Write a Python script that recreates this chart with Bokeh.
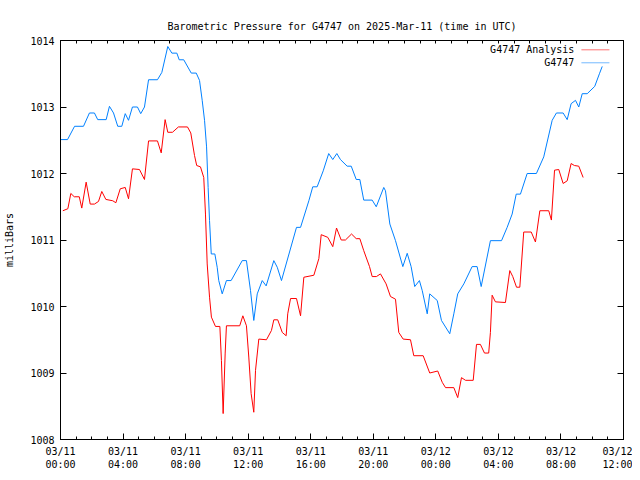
from bokeh.plotting import figure
from bokeh.models import FixedTicker, LinearAxis, Label, BoxAnnotation, Range1d
from bokeh.embed import file_html
from bokeh.resources import INLINE

# hours since 2025-03-11 00:00 UTC
obs_hours = [0.00, 0.45, 0.90, 1.47, 1.85, 2.17, 2.38, 2.92, 3.13, 3.39, 3.66, 3.92, 4.14, 4.35, 4.60,
             4.92, 5.13, 5.37, 5.63, 6.20, 6.48, 6.86, 7.12, 7.44, 7.59, 7.88, 8.36, 8.68, 8.89, 9.06,
             9.21, 9.34, 9.44, 9.53, 9.64, 9.87, 10.02, 10.12, 10.34, 10.61, 10.91, 11.62, 11.89, 12.15,
             12.36, 12.58, 12.90, 13.15, 13.64, 13.86, 14.13, 15.09, 15.35, 15.88, 16.13, 16.41, 16.80,
             17.15, 17.41, 17.67, 17.90, 18.33, 18.59, 18.91, 19.14, 19.39, 19.93, 20.19, 20.67, 20.78,
             21.06, 21.42, 21.89, 22.17, 22.42, 22.65, 22.95, 23.13, 23.45, 23.61, 24.09, 24.36, 24.89,
             25.15, 25.40, 25.79, 26.32, 26.64, 26.90, 27.49, 28.20, 28.56, 28.88, 29.14, 29.41, 29.84,
             30.43, 30.90, 31.44, 31.71, 32.14, 32.40, 32.65, 32.93, 33.14, 33.36, 33.68, 34.16, 34.46,
             34.64]
obs_mb = [1012.51, 1012.51, 1012.71, 1012.71, 1012.91, 1012.91, 1012.81, 1012.81, 1013.01, 1012.91,
          1012.71, 1012.71, 1012.90, 1012.80, 1013.00, 1013.00, 1012.90, 1013.00, 1013.41, 1013.41,
          1013.52, 1013.91, 1013.81, 1013.81, 1013.71, 1013.71, 1013.51, 1013.51, 1013.40, 1013.10,
          1012.80, 1012.40, 1011.79, 1011.29, 1010.79, 1010.79, 1010.59, 1010.39, 1010.19, 1010.39,
          1010.39, 1010.69, 1010.69, 1010.24, 1009.79, 1010.19, 1010.39, 1010.31, 1010.69, 1010.59,
          1010.39, 1011.19, 1011.19, 1011.59, 1011.80, 1011.80, 1012.04, 1012.30, 1012.21, 1012.30,
          1012.21, 1012.11, 1012.11, 1011.91, 1011.91, 1011.60, 1011.60, 1011.50, 1011.79, 1011.74,
          1011.24, 1010.99, 1010.60, 1010.80, 1010.60, 1010.30, 1010.39, 1010.24, 1009.89, 1010.19,
          1010.09, 1009.79, 1009.59, 1009.89, 1010.19, 1010.34, 1010.60, 1010.60, 1010.30, 1010.99,
          1010.99, 1011.19, 1011.39, 1011.69, 1011.69, 1012.00, 1012.00, 1012.25, 1012.80, 1012.91,
          1012.91, 1012.81, 1013.05, 1013.10, 1013.00, 1013.20, 1013.20, 1013.31, 1013.50, 1013.61]

ana_hours = [0.15, 0.47, 0.66, 0.88, 1.20, 1.36, 1.64, 1.90, 2.17, 2.43, 2.64, 2.90, 3.34, 3.54, 3.82,
             4.14, 4.35, 4.60, 5.05, 5.37, 5.63, 6.20, 6.44, 6.69, 6.86, 7.16, 7.54, 8.12, 8.33, 8.57,
             8.71, 8.95, 9.16, 9.27, 9.38, 9.53, 9.65, 9.91, 10.19, 10.29, 10.40, 10.53, 10.61, 11.46,
             11.66, 11.89, 12.04, 12.19, 12.36, 12.47, 12.68, 13.17, 13.49, 13.64, 13.89, 14.18, 14.43,
             14.53, 14.71, 15.09, 15.35, 15.56, 16.20, 16.52, 16.67, 17.09, 17.41, 17.65, 17.95, 18.22,
             18.61, 18.91, 19.14, 19.39, 19.76, 19.93, 20.20, 20.46, 20.82, 21.10, 21.42, 21.63, 21.91,
             22.38, 22.59, 23.19, 23.61, 24.12, 24.41, 24.62, 25.15, 25.40, 25.64, 25.90, 26.39, 26.60,
             26.85, 27.11, 27.38, 27.49, 27.60, 27.81, 28.45, 28.73, 28.92, 29.16, 29.37, 29.62, 30.10,
             30.37, 30.65, 31.22, 31.39, 31.59, 31.86, 32.14, 32.40, 32.65, 32.86, 33.14, 33.42]
ana_mb = [1011.44, 1011.47, 1011.70, 1011.65, 1011.65, 1011.48, 1011.87, 1011.54, 1011.54, 1011.58,
          1011.73, 1011.61, 1011.59, 1011.56, 1011.77, 1011.79, 1011.62, 1012.07, 1012.06, 1011.91,
          1012.49, 1012.49, 1012.31, 1012.81, 1012.62, 1012.62, 1012.70, 1012.70, 1012.61, 1012.27,
          1012.12, 1012.10, 1011.94, 1011.39, 1010.64, 1010.14, 1009.84, 1009.70, 1009.70, 1009.19,
          1008.39, 1009.30, 1009.71, 1009.71, 1009.86, 1009.71, 1009.24, 1008.69, 1008.41, 1009.04,
          1009.51, 1009.50, 1009.64, 1009.80, 1009.80, 1009.61, 1009.56, 1009.89, 1010.12, 1010.12,
          1009.86, 1010.44, 1010.47, 1010.72, 1011.08, 1011.04, 1010.90, 1011.18, 1011.00, 1011.00,
          1011.09, 1011.02, 1011.02, 1010.84, 1010.60, 1010.45, 1010.45, 1010.49, 1010.34, 1010.15,
          1010.11, 1009.61, 1009.51, 1009.50, 1009.26, 1009.26, 1009.00, 1009.03, 1008.86, 1008.78,
          1008.78, 1008.63, 1008.93, 1008.89, 1008.89, 1009.43, 1009.43, 1009.30, 1009.30, 1009.61,
          1010.17, 1010.07, 1010.06, 1010.54, 1010.45, 1010.29, 1010.29, 1011.12, 1011.12, 1010.97,
          1011.44, 1011.44, 1011.30, 1012.05, 1012.06, 1011.85, 1011.89, 1012.15, 1012.12, 1012.11,
          1011.94]

x_ticks = [0, 4, 8, 12, 16, 20, 24, 28, 32, 36]
x_minor = list(range(0, 37))
x_tick_labels = ["03/11\n00:00", "03/11\n04:00", "03/11\n08:00", "03/11\n12:00", "03/11\n16:00",
                 "03/11\n20:00", "03/12\n00:00", "03/12\n04:00", "03/12\n08:00", "03/12\n12:00"]
y_ticks = [1008, 1009, 1010, 1011, 1012, 1013, 1014]

FONT = "DejaVu Sans Mono"
FS = "10px"

p = figure(width=632, height=472, output_backend="svg", toolbar_location=None,
           x_range=Range1d(0, 36), y_range=Range1d(1008, 1014),
           title="Barometric Pressure for G4747 on 2025-Mar-11 (time in UTC)",
           min_border_left=60, min_border_right=9, min_border_top=40, min_border_bottom=33,
           x_axis_location=None, y_axis_location=None)
p.title.align = "center"
p.title.text_font = FONT
p.title.text_font_size = FS
p.title.text_font_style = "normal"
p.title.text_color = "black"
p.title.standoff = 18
p.xgrid.visible = False
p.ygrid.visible = False
p.outline_line_color = "black"
p.outline_line_width = 1
p.background_fill_color = "white"
p.border_fill_color = "white"

# bottom axis with labels
xb = LinearAxis(ticker=FixedTicker(ticks=x_ticks, minor_ticks=x_minor))
xb.major_label_overrides = {t: l for t, l in zip(x_ticks, x_tick_labels)}
# left axis with labels
yl = LinearAxis(ticker=FixedTicker(ticks=y_ticks, minor_ticks=[]))
yl.axis_label = "milliBars"
yl.axis_label_text_font = FONT
yl.axis_label_text_font_size = FS
yl.axis_label_text_font_style = "normal"
yl.axis_label_text_color = "black"
yl.axis_label_standoff = 12
for ax in (xb, yl):
    ax.major_tick_in = 6
    ax.major_tick_out = 0
    ax.minor_tick_in = 3
    ax.minor_tick_out = 0
    ax.major_tick_line_color = "black"
    ax.minor_tick_line_color = "black"
    ax.axis_line_color = "black"
    ax.major_label_text_font = FONT
    ax.major_label_text_font_size = FS
    ax.major_label_text_color = "black"
    ax.major_label_standoff = 6

# mirrored tick marks on top and right (no labels: only minor ticks used)
xa = LinearAxis(ticker=FixedTicker(ticks=[], minor_ticks=x_minor))
yr = LinearAxis(ticker=FixedTicker(ticks=[], minor_ticks=y_ticks))
xa.minor_tick_in = 3
yr.minor_tick_in = 6
for ax in (xa, yr):
    ax.minor_tick_out = 0
    ax.major_tick_in = 0
    ax.major_tick_out = 0
    ax.minor_tick_line_color = "black"
    ax.axis_line_color = "black"
    ax.major_label_standoff = 0

p.add_layout(xb, "below")
p.add_layout(yl, "left")
p.add_layout(xa, "above")
p.add_layout(yr, "right")

RED = "#ff0000"
BLUE = "#0080ff"
p.line(ana_hours, ana_mb, line_color=RED, line_width=1)
p.line(obs_hours, obs_mb, line_color=BLUE, line_width=1)

# key (gnuplot style: text then sample line)
leg_names = ["G4747 Analysis", "G4747"]
leg_colors = [RED, BLUE]
leg_y = [1013.86, 1013.665]
for name, col, yy in zip(leg_names, leg_colors, leg_y):
    p.add_layout(Label(x=32.86, y=yy, text=name, text_align="right", text_baseline="middle",
                       text_font=FONT, text_font_size=FS, text_color="black"))
    p.add_layout(BoxAnnotation(left=33.31, right=35.10, bottom=yy, top=yy,
                               fill_alpha=0, line_color=col, line_width=1))

open("out.html", "w").write(file_html(p, INLINE))
